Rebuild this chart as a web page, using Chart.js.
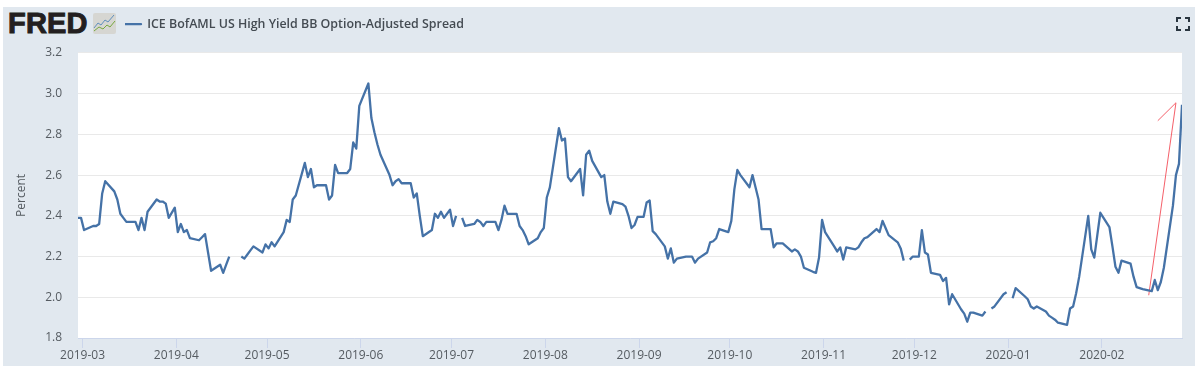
<!DOCTYPE html>
<html>
<head>
<meta charset="utf-8">
<script src="https://cdn.jsdelivr.net/npm/chart.js@4"></script>
<style>
html,body{margin:0;padding:0;background:#fff;width:1200px;height:369px;overflow:hidden}
#panel{position:absolute;left:3px;top:7px;width:1192px;height:359px;background:#e1e8ef}
#logo{position:absolute;left:8px;top:6px;font:bold 29px/34px "Liberation Sans",Arial,sans-serif;color:#231f20;-webkit-text-stroke:1px #231f20;letter-spacing:.2px}
#spark{position:absolute;left:93px;top:13px}
#full{position:absolute;left:1176px;top:17px}
canvas{position:absolute;left:0;top:0}
</style>
</head>
<body>
<div id="panel"></div>
<div id="logo">FRED</div>
<svg id="spark" width="23" height="21" viewBox="0 0 23 21">
  <rect x="0" y="0" width="23" height="21" rx="2" fill="#d6d6d2"/>
  <polyline points="1,15 5,10 8,12 12,7 15,9 21,2" fill="none" stroke="#5f8fbd" stroke-width="1"/>
  <polyline points="1,18 6,14 10,16 14,12 17,14 22,8" fill="none" stroke="#76a83f" stroke-width="1"/>
</svg>
<svg id="full" width="14" height="14" viewBox="0 0 14 14" fill="none" stroke="#2a3640" stroke-width="2">
  <path d="M1,5V1H5M9,1H13V5M13,9V13H9M5,13H1V9"/>
</svg>
<canvas id="c" width="1200" height="369"></canvas>
<script>
const seriesName = "ICE BofAML US High Yield BB Option-Adjusted Spread";
const yAxisTitle = "Percent";
const tickMonths = ["2019-03","2019-04","2019-05","2019-06","2019-07","2019-08","2019-09","2019-10","2019-11","2019-12","2020-01","2020-02"];
const yTicks = [1.8,2.0,2.2,2.4,2.6,2.8,3.0,3.2];

const dates = [
"2019-02-27","2019-02-28","2019-03-01","2019-03-04","2019-03-05","2019-03-06","2019-03-07","2019-03-08",
"2019-03-11","2019-03-12","2019-03-13","2019-03-14","2019-03-15","2019-03-18","2019-03-19","2019-03-20","2019-03-21","2019-03-22",
"2019-03-25","2019-03-26","2019-03-27","2019-03-28","2019-03-29","2019-03-31","2019-04-01","2019-04-02","2019-04-03","2019-04-04","2019-04-05",
"2019-04-08","2019-04-09","2019-04-10","2019-04-11","2019-04-12","2019-04-15","2019-04-16","2019-04-17","2019-04-18","2019-04-19",
"2019-04-22","2019-04-23","2019-04-24","2019-04-25","2019-04-26","2019-04-29","2019-04-30","2019-05-01","2019-05-02","2019-05-03",
"2019-05-06","2019-05-07","2019-05-08","2019-05-09","2019-05-10","2019-05-13","2019-05-14","2019-05-15","2019-05-16","2019-05-17",
"2019-05-20","2019-05-21","2019-05-22","2019-05-23","2019-05-24","2019-05-27","2019-05-28","2019-05-29","2019-05-30","2019-05-31",
"2019-06-03","2019-06-04","2019-06-05","2019-06-06","2019-06-07","2019-06-10","2019-06-11","2019-06-12","2019-06-13","2019-06-14",
"2019-06-17","2019-06-18","2019-06-19","2019-06-20","2019-06-21","2019-06-24","2019-06-25","2019-06-26","2019-06-27","2019-06-28","2019-06-30",
"2019-07-01","2019-07-02","2019-07-03","2019-07-04","2019-07-05","2019-07-08","2019-07-09","2019-07-10","2019-07-11","2019-07-12",
"2019-07-15","2019-07-16","2019-07-17","2019-07-18","2019-07-19","2019-07-22","2019-07-23","2019-07-24","2019-07-25","2019-07-26",
"2019-07-29","2019-07-30","2019-07-31","2019-08-01","2019-08-02","2019-08-05","2019-08-06","2019-08-07","2019-08-08","2019-08-09",
"2019-08-12","2019-08-13","2019-08-14","2019-08-15","2019-08-16","2019-08-19","2019-08-20","2019-08-21","2019-08-22","2019-08-23",
"2019-08-26","2019-08-27","2019-08-28","2019-08-29","2019-08-30","2019-08-31","2019-09-02","2019-09-03","2019-09-04","2019-09-05","2019-09-06",
"2019-09-09","2019-09-10","2019-09-11","2019-09-12","2019-09-13","2019-09-16","2019-09-17","2019-09-18","2019-09-19","2019-09-20",
"2019-09-23","2019-09-24","2019-09-25","2019-09-26","2019-09-27","2019-09-30","2019-10-01","2019-10-02","2019-10-03","2019-10-04",
"2019-10-07","2019-10-08","2019-10-09","2019-10-10","2019-10-11","2019-10-14","2019-10-15","2019-10-16","2019-10-17","2019-10-18",
"2019-10-21","2019-10-22","2019-10-23","2019-10-24","2019-10-25","2019-10-28","2019-10-29","2019-10-30","2019-10-31","2019-11-01",
"2019-11-04","2019-11-05","2019-11-06","2019-11-07","2019-11-08","2019-11-11","2019-11-12","2019-11-13","2019-11-14","2019-11-15",
"2019-11-18","2019-11-19","2019-11-20","2019-11-21","2019-11-22","2019-11-25","2019-11-26","2019-11-27","2019-11-28","2019-11-29","2019-11-30",
"2019-12-02","2019-12-03","2019-12-04","2019-12-05","2019-12-06","2019-12-09","2019-12-10","2019-12-11","2019-12-12","2019-12-13",
"2019-12-16","2019-12-17","2019-12-18","2019-12-19","2019-12-20","2019-12-23","2019-12-24","2019-12-25","2019-12-26","2019-12-27",
"2019-12-30","2019-12-31","2020-01-01","2020-01-02","2020-01-03","2020-01-06","2020-01-07","2020-01-08","2020-01-09","2020-01-10",
"2020-01-13","2020-01-14","2020-01-15","2020-01-16","2020-01-17","2020-01-20","2020-01-21","2020-01-22","2020-01-23","2020-01-24",
"2020-01-27","2020-01-28","2020-01-29","2020-01-30","2020-01-31","2020-02-03","2020-02-04","2020-02-05","2020-02-06","2020-02-07",
"2020-02-10","2020-02-11","2020-02-12","2020-02-13","2020-02-14","2020-02-17","2020-02-18","2020-02-19","2020-02-20","2020-02-21",
"2020-02-24","2020-02-25","2020-02-26","2020-02-27"
];

const values = [
2.39,2.39,2.33,2.35,2.35,2.36,2.51,2.57,
2.52,2.48,2.41,2.39,2.37,2.37,2.33,2.39,2.33,2.42,
2.48,2.47,2.47,2.46,2.39,2.44,2.32,2.36,2.32,2.33,2.29,
2.28,2.295,2.31,2.22,2.13,2.16,2.12,2.16,2.20,null,
2.20,2.19,2.21,2.23,2.25,2.22,2.26,2.24,2.27,2.25,
2.32,2.38,2.37,2.48,2.50,2.66,2.59,2.63,2.54,2.55,
2.55,2.48,2.50,2.65,2.61,2.61,2.63,2.76,2.73,2.94,
3.05,2.88,2.81,2.75,2.70,2.60,2.55,2.57,2.58,2.56,
2.56,2.49,2.51,2.40,2.30,2.33,2.41,2.39,2.42,2.39,2.43,
2.35,2.40,null,2.39,2.35,2.36,2.38,2.37,2.35,2.37,
2.37,2.33,2.38,2.45,2.41,2.41,2.35,2.33,2.30,2.26,
2.29,2.32,2.34,2.49,2.54,2.83,2.77,2.78,2.59,2.57,
2.63,2.50,2.70,2.72,2.67,2.59,2.60,2.47,2.41,2.47,
2.457,2.445,2.40,2.34,2.355,2.395,2.395,2.465,2.475,2.325,2.31,
2.25,2.19,2.24,2.17,2.19,2.20,2.20,2.20,2.17,2.19,
2.22,2.27,2.275,2.29,2.335,2.32,2.375,2.53,2.625,2.60,
2.54,2.60,2.54,2.48,2.335,2.335,2.245,2.265,2.265,2.265,
2.225,2.235,2.225,2.20,2.145,2.125,2.12,2.195,2.38,2.32,
2.25,2.225,2.245,2.185,2.245,2.235,2.245,2.27,2.29,2.295,
2.335,2.32,2.375,2.34,2.305,2.27,2.24,2.18,null,2.185,2.20,
2.20,2.33,2.22,2.21,2.12,2.11,2.08,2.095,1.965,2.015,
1.94,1.92,1.88,1.925,1.925,1.91,1.93,null,1.945,1.955,
2.015,2.025,null,1.995,2.045,2.005,1.99,1.955,1.945,1.955,
1.93,1.91,1.90,1.89,1.875,1.865,1.945,1.955,2.02,2.10,
2.40,2.235,2.195,2.305,2.415,2.345,2.25,2.15,2.12,2.18,
2.165,2.10,2.05,2.045,2.04,2.03,2.085,2.035,2.075,2.145,
2.45,2.60,2.655,2.945
];

const arrowDates = ["2020-02-16","2020-02-25","2020-02-19"];
const arrowValues = [2.01,2.955,2.867];

const dayNum = s => Date.parse(s + "T00:00:00Z") / 86400000;
const points = dates.map((d,i) => ({x: dayNum(d), y: values[i]}));
const arrowPoints = arrowDates.map((d,i) => ({x: dayNum(d), y: arrowValues[i]}));

const panelPlugin = {
  id: "panelPlugin",
  afterLayout(chart){
    const l = chart.legend;
    const w = l.right - l.left;
    l.left = 125; l.right = 125 + w; l.top = 18; l.bottom = 41;
  },
  beforeDraw(chart){
    const {ctx, chartArea:a} = chart;
    ctx.save(); ctx.fillStyle = "#ffffff";
    ctx.fillRect(a.left, a.top, a.right - a.left, a.bottom - a.top);
    ctx.restore();
  }
};

new Chart(document.getElementById("c"), {
  type: "line",
  data: { datasets: [
    { label: seriesName, data: points, borderColor: "#4572a7", backgroundColor: "#4572a7",
      borderWidth: 2.3, pointRadius: 0, tension: 0, spanGaps: false, borderJoinStyle: "round" },
    { label: "arrow", data: arrowPoints, borderColor: "#f5606a", backgroundColor: "#f5606a",
      borderWidth: 1, pointRadius: 0, tension: 0 }
  ]},
  plugins: [panelPlugin],
  options: {
    responsive: false, animation: false, events: [],
    layout: { padding: { top: 30.5, left: 14, right: 18, bottom: 0 } },
    plugins: {
      tooltip: { enabled: false },
      title: { display: false },
      legend: { display: true, position: "top", align: "start",
        labels: { boxWidth: 16, boxHeight: 0, padding: 0, color: "#444b52",
          font: { family: "'Open Sans'", size: 12.4, weight: "600" },
          filter: it => it.text !== "arrow" } }
    },
    scales: {
      x: { type: "linear", min: dayNum(dates[0]), max: dayNum(dates[dates.length-1]),
        afterFit(s){ s.height = 31; },
        afterBuildTicks(s){ s.ticks = tickMonths.map(m => ({value: dayNum(m + "-01") - 0.5})); },
        grid: { drawOnChartArea: false, drawTicks: true, tickLength: 10, color: "#ccd6eb" },
        border: { color: "#ccd6eb" },
        ticks: { autoSkip: false, maxRotation: 0, padding: 0, color: "#555b61",
          font: { family: "'Open Sans'", size: 12 },
          callback: (v, i) => tickMonths[i] }
      },
      y: { type: "linear", min: yTicks[0], max: yTicks[yTicks.length-1],
        afterFit(s){ s.width = 64; },
        afterBuildTicks(s){ s.ticks = yTicks.map(v => ({value: v})); },
        grid: { color: "#e9e9e9", drawTicks: false },
        border: { display: false },
        title: { display: true, text: yAxisTitle, color: "#555b61", padding: 0,
          font: { family: "'Open Sans'", size: 12 } },
        ticks: { padding: 16, color: "#555b61",
          font: { family: "'Open Sans'", size: 12 },
          callback: v => v.toFixed(1) }
      }
    }
  }
});
</script>
</body>
</html>
